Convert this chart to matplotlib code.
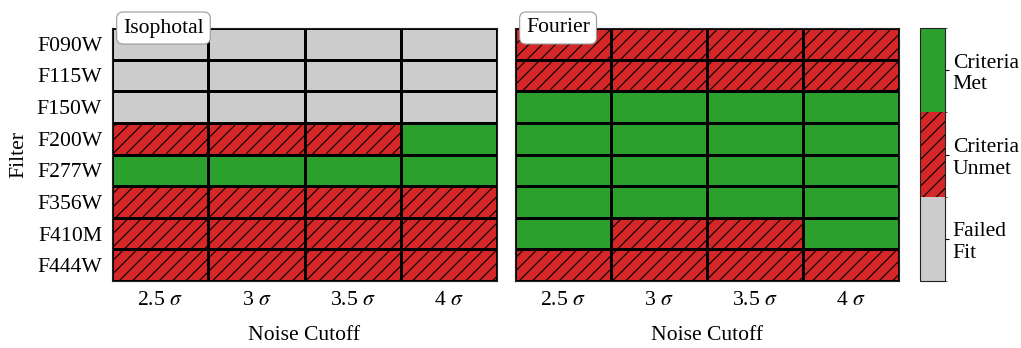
import numpy as np
import matplotlib
matplotlib.use("Agg")
import matplotlib.pyplot as plt
from matplotlib.colors import ListedColormap, BoundaryNorm
from matplotlib.cm import ScalarMappable
from matplotlib.patches import Rectangle

plt.rcParams['font.family'] = ['Liberation Serif', 'DejaVu Serif']
plt.rcParams['mathtext.fontset'] = 'stix'
plt.rcParams['font.size'] = 19.5
plt.rcParams['hatch.linewidth'] = 1.0

# Filters (rows) and noise cutoffs (columns)
filters = ["F090W", "F115W", "F150W", "F200W", "F277W", "F356W", "F410M", "F444W"]
cutoffs = ["2.5 $\\sigma$", "3 $\\sigma$", "3.5 $\\sigma$", "4 $\\sigma$"]
status_labels = ["Failed\nFit", "Criteria\nUnmet", "Criteria\nMet"]

# 0 = failed fit, 1 = criteria unmet, 2 = criteria met
isophotal = [
    [0, 0, 0, 0],
    [0, 0, 0, 0],
    [0, 0, 0, 0],
    [1, 1, 1, 2],
    [2, 2, 2, 2],
    [1, 1, 1, 1],
    [1, 1, 1, 1],
    [1, 1, 1, 1],
]
fourier = [
    [1, 1, 1, 1],
    [1, 1, 1, 1],
    [2, 2, 2, 2],
    [2, 2, 2, 2],
    [2, 2, 2, 2],
    [2, 2, 2, 2],
    [2, 1, 1, 2],
    [1, 1, 1, 1],
]

status_colors = ['#cccccc', '#d62728', '#2ca02c']
cmap = ListedColormap(status_colors)
norm = BoundaryNorm([-0.5, 0.5, 1.5, 2.5], cmap.N)

W, H, DPI = 1021, 348, 80
fig = plt.figure(figsize=(W / DPI, H / DPI), dpi=DPI)

bottom = 1 - 281 / H
height = (281 - 28) / H
ax_iso = fig.add_axes([112 / W, bottom, (497 - 112) / W, height])
ax_fou = fig.add_axes([515 / W, bottom, (899 - 515) / W, height])
cax = fig.add_axes([920 / W, bottom, (945 - 920) / W, height])

for ax, data, title in [(ax_iso, isophotal, "Isophotal"), (ax_fou, fourier, "Fourier")]:
    arr = np.array(data)
    ax.pcolormesh(arr, cmap=cmap, norm=norm, edgecolors='black', linewidth=1.0)
    for i, j in zip(*np.where(arr == 1)):
        ax.add_patch(Rectangle((j, i), 1, 1, facecolor='none', edgecolor='black',
                               linewidth=0, hatch='//'))
    ax.set_xlim(0, arr.shape[1])
    ax.set_ylim(arr.shape[0], 0)
    ax.set_xticks(np.arange(arr.shape[1]) + 0.5)
    ax.set_xticklabels(cutoffs)
    ax.tick_params(length=0, pad=9)
    ax.set_xlabel("Noise Cutoff", va='center')
    ax.xaxis.set_label_coords(0.5, (281 - 335) / 253)
    for s in ax.spines.values():
        s.set_color('#222222')
        s.set_linewidth(1.0)
    ax.text(0.029, 1.0, title, transform=ax.transAxes, ha='left', va='center',
            zorder=10, clip_on=False,
            bbox=dict(boxstyle='round,pad=0.3', facecolor='white', edgecolor='#999999'))

ax_iso.set_yticks(np.arange(len(filters)) + 0.5)
ax_iso.set_yticklabels(filters)
ax_iso.set_ylabel("Filter", va='center')
ax_iso.yaxis.set_label_coords((19 - 112) / 385, 0.5)
ax_fou.set_yticks([])

cb = fig.colorbar(ScalarMappable(norm=norm, cmap=cmap), cax=cax, ticks=[0, 1, 2])
cb.set_ticklabels(status_labels)
cb.outline.set_edgecolor('#222222')
cb.outline.set_linewidth(1.0)
cax.tick_params(length=4, width=1, pad=3)
cax.add_patch(Rectangle((0, 0.5), 1, 1, facecolor='none', edgecolor='black',
                        linewidth=0, hatch='//', transform=cax.transData))

fig.savefig("out.png", dpi=DPI)
